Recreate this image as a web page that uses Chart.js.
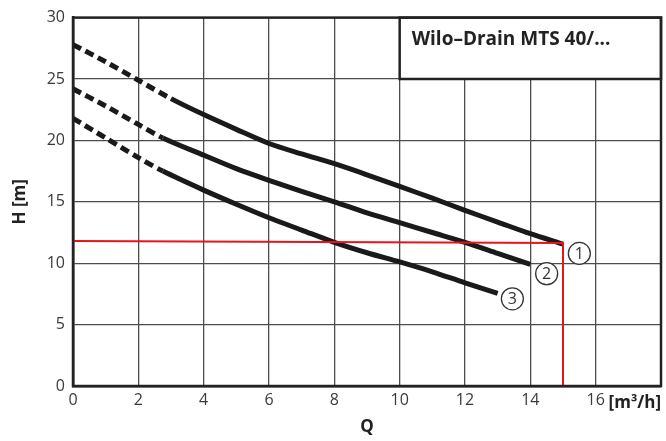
<!DOCTYPE html>
<html>
<head>
<meta charset="utf-8">
<script src="https://cdn.jsdelivr.net/npm/chart.js@4/dist/chart.umd.min.js"></script>
<style>
  html,body{margin:0;padding:0;background:#fff;}
  #wrap{width:666px;height:441px;position:relative;}
</style>
</head>
<body>
<div id="wrap"><canvas id="pumpChart" width="666" height="441"></canvas></div>
<script>
// Q [m3/h] and H [m]
const q1 = [0, 1, 2, 3, 4, 5, 6, 7, 8, 9, 10, 11, 12, 13, 14, 15];
const h1 = [27.8, 26.4, 24.9, 23.4, 22.1, 20.9, 19.75, 18.9, 18.1, 17.2, 16.25, 15.3, 14.3, 13.35, 12.4, 11.55];
const q2 = [0, 1, 2, 2.75, 4, 5, 6, 7, 8, 9, 10, 11, 12, 13, 14];
const h2 = [24.2, 22.8, 21.3, 20.2, 18.8, 17.7, 16.75, 15.85, 15.0, 14.1, 13.3, 12.5, 11.7, 10.8, 9.9];
const q3 = [0, 1, 2, 2.75, 4, 5, 6, 7, 8, 9, 10, 11, 12, 13];
const h3 = [21.8, 20.2, 18.6, 17.5, 15.95, 14.8, 13.7, 12.7, 11.7, 10.85, 10.1, 9.3, 8.4, 7.55];
const dashEnd = [3, 2.75, 2.75];   // curves are dashed below these Q values

// duty point (red guide lines)
const dutyQ = [0, 15, 15];
const dutyH = [11.8, 11.65, 0];

const curveLabels = ['1', '2', '3'];
const labelQ = [15.5, 14.5, 13.45];
const labelH = [10.8, 9.15, 7.1];

const chartTitle = 'Wilo–Drain MTS 40/...';
const xUnit = '[m³/h]';

const FONT = '"Open Sans", "Noto Sans", sans-serif';
const toPts = (xs, ys) => xs.map((x, i) => ({x: x, y: ys[i]}));

function curveDataset(xs, ys, dEnd){
  return {
    data: toPts(xs, ys),
    showLine: true,
    borderColor: '#1a1a1a',
    borderWidth: 5,
    pointRadius: 0,
    tension: 0.3,
    fill: false,
    order: 1,
    segment: {
      borderDash: ctx => ctx.p1.parsed.x <= dEnd + 0.01 ? [9, 5] : undefined
    }
  };
}

const decorPlugin = {
  id: 'decor',
  afterDatasetsDraw(chart){
    const {ctx, chartArea: a, scales: {x, y}} = chart;
    ctx.save();
    // title box
    const bx = x.getPixelForValue(10), by = y.getPixelForValue(25);
    ctx.fillStyle = '#fff';
    ctx.fillRect(bx, a.top, a.right - bx, by - a.top);
    ctx.strokeStyle = '#222';
    ctx.lineWidth = 2.5;
    ctx.strokeRect(bx, a.top, a.right - bx, by - a.top);
    ctx.fillStyle = '#222';
    ctx.font = 'bold 19px ' + FONT;
    ctx.textAlign = 'left';
    ctx.textBaseline = 'middle';
    ctx.fillText(chartTitle, bx + 12, a.top + 22);
    // frame
    ctx.strokeRect(a.left, a.top, a.right - a.left, a.bottom - a.top);
    // circled curve numbers
    curveLabels.forEach((t, i) => {
      const cx = x.getPixelForValue(labelQ[i]), cy = y.getPixelForValue(labelH[i]);
      ctx.beginPath();
      ctx.arc(cx, cy, 11, 0, Math.PI * 2);
      ctx.fillStyle = '#fff';
      ctx.fill();
      ctx.lineWidth = 1.3;
      ctx.strokeStyle = '#333';
      ctx.stroke();
      ctx.fillStyle = '#333';
      ctx.font = '16px ' + FONT;
      ctx.textAlign = 'center';
      ctx.fillText(t, cx, cy + 1);
    });
    // unit at the end of the Q axis
    ctx.fillStyle = '#222';
    ctx.font = 'bold 17px ' + FONT;
    ctx.textAlign = 'center';
    ctx.fillText(xUnit, x.getPixelForValue(17.2), a.bottom + 17);
    ctx.restore();
  }
};

new Chart(document.getElementById('pumpChart'), {
  type: 'scatter',
  data: {
    datasets: [
      {
        data: toPts(dutyQ, dutyH),
        showLine: true,
        borderColor: '#e8141c',
        borderWidth: 2,
        pointRadius: 0,
        tension: 0,
        order: 0
      },
      curveDataset(q1, h1, dashEnd[0]),
      curveDataset(q2, h2, dashEnd[1]),
      curveDataset(q3, h3, dashEnd[2])
    ]
  },
  options: {
    responsive: false,
    animation: false,
    layout: {padding: {top: 17, right: 5, left: 0, bottom: 0}},
    plugins: {legend: {display: false}, tooltip: {enabled: false}},
    scales: {
      x: {
        type: 'linear', min: 0, max: 18,
        ticks: {stepSize: 2, color: '#3a3a3a', font: {family: FONT, size: 16}, padding: 5,
          callback: v => v === 18 ? '' : v},
        grid: {color: '#4d4d4d', lineWidth: 1.3, drawTicks: false},
        border: {color: '#222', width: 2.5},
        title: {display: true, text: 'Q', color: '#222', font: {family: FONT, size: 17, weight: 'bold'}, padding: {top: 2}},
        afterFit: s => { s.height = 55; }
      },
      y: {
        type: 'linear', min: 0, max: 30,
        ticks: {stepSize: 5, color: '#3a3a3a', font: {family: FONT, size: 16}, padding: 8},
        grid: {color: '#4d4d4d', lineWidth: 1.3, drawTicks: false},
        border: {color: '#222', width: 2.5},
        title: {display: true, text: 'H [m]', color: '#222', font: {family: FONT, size: 17, weight: 'bold'}, padding: {top: 10}},
        afterFit: s => { s.width = 73; }
      }
    }
  },
  plugins: [decorPlugin]
});
</script>
</body>
</html>
